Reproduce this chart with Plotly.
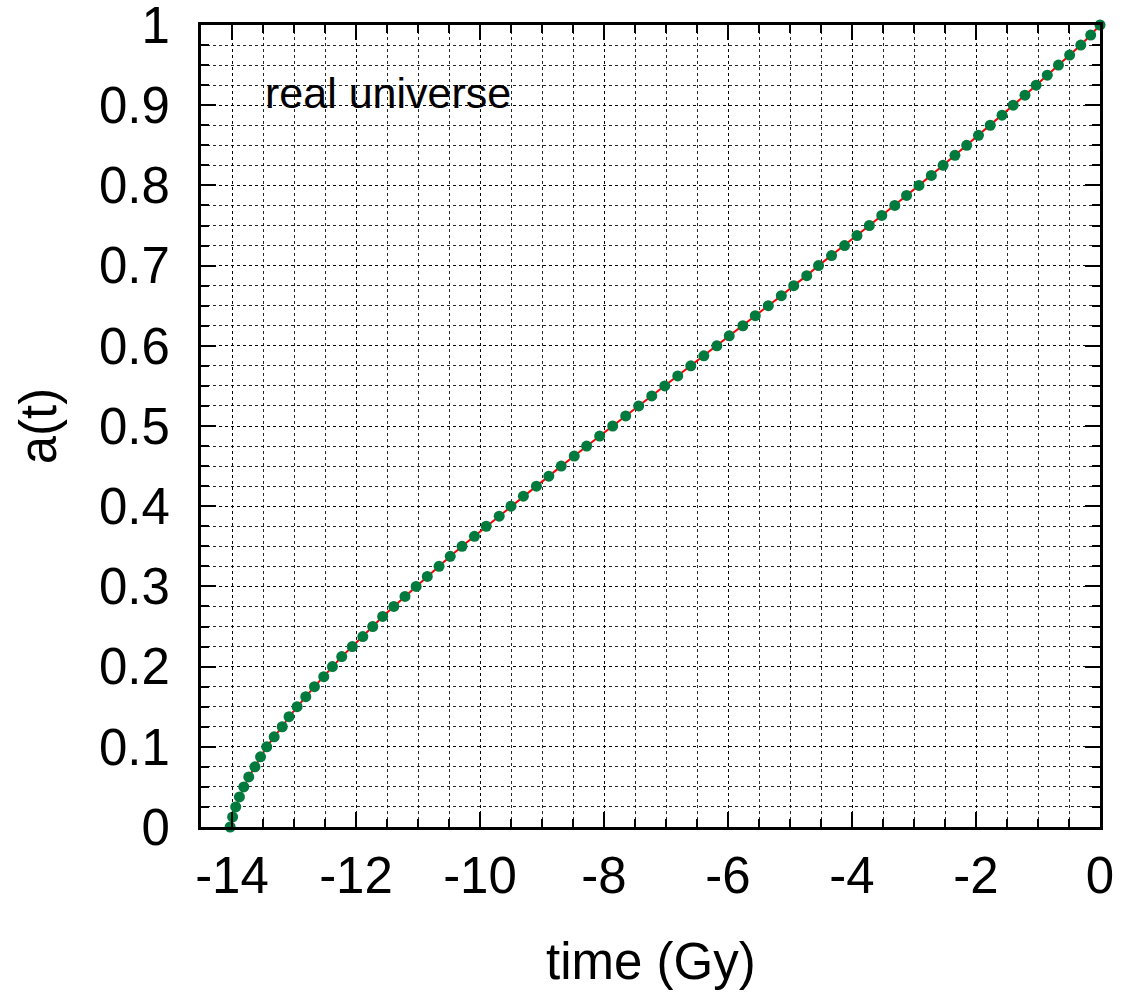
import plotly.graph_objects as go

# scale factor a (evenly spaced samples)
a_vals = [0.0, 0.0125, 0.025, 0.0375, 0.05, 0.0625, 0.075, 0.0875, 0.1, 0.1125,
          0.125, 0.1375, 0.15, 0.1625, 0.175, 0.1875, 0.2, 0.2125, 0.225, 0.2375,
          0.25, 0.2625, 0.275, 0.2875, 0.3, 0.3125, 0.325, 0.3375, 0.35, 0.3625,
          0.375, 0.3875, 0.4, 0.4125, 0.425, 0.4375, 0.45, 0.4625, 0.475, 0.4875,
          0.5, 0.5125, 0.525, 0.5375, 0.55, 0.5625, 0.575, 0.5875, 0.6, 0.6125,
          0.625, 0.6375, 0.65, 0.6625, 0.675, 0.6875, 0.7, 0.7125, 0.725, 0.7375,
          0.75, 0.7625, 0.775, 0.7875, 0.8, 0.8125, 0.825, 0.8375, 0.85, 0.8625,
          0.875, 0.8875, 0.9, 0.9125, 0.925, 0.9375, 0.95, 0.9625, 0.975, 0.9875,
          1.0]

# time in Gy
t_vals = [-14.03, -13.99, -13.94, -13.88, -13.81, -13.73, -13.63, -13.54, -13.44, -13.32,
          -13.19, -13.08, -12.95, -12.81, -12.67, -12.52, -12.38, -12.23, -12.06, -11.89,
          -11.73, -11.57, -11.39, -11.21, -11.03, -10.85, -10.66, -10.48, -10.29, -10.09,
          -9.90, -9.69, -9.50, -9.30, -9.09, -8.89, -8.69, -8.48, -8.28, -8.07,
          -7.86, -7.65, -7.44, -7.23, -7.02, -6.81, -6.60, -6.39, -6.18, -5.98,
          -5.76, -5.56, -5.35, -5.14, -4.94, -4.73, -4.54, -4.33, -4.12, -3.92,
          -3.72, -3.52, -3.31, -3.12, -2.92, -2.72, -2.53, -2.34, -2.15, -1.96,
          -1.77, -1.58, -1.40, -1.21, -1.03, -0.85, -0.67, -0.49, -0.31, -0.15,
          0.0]

x_tickvals = [-14, -12, -10, -8, -6, -4, -2, 0]
x_ticktext = ["-14", "-12", "-10", "-8", "-6", "-4", "-2", "0"]
y_tickvals = [0, 0.1, 0.2, 0.3, 0.4, 0.5, 0.6, 0.7, 0.8, 0.9, 1]
y_ticktext = ["0", "0.1", "0.2", "0.3", "0.4", "0.5", "0.6", "0.7", "0.8", "0.9", "1"]

FONT = "Liberation Sans, Arial, Helvetica, sans-serif"
GRID = "rgba(0,0,0,0.85)"

fig = go.Figure()
fig.add_trace(go.Scatter(
    x=t_vals, y=a_vals, mode="lines+markers",
    line=dict(color="#ff0000", width=2),
    marker=dict(color="#007a3d", size=11, line=dict(width=0)),
    cliponaxis=False, showlegend=False,
))

axis_common = dict(
    showline=True, linecolor="black", linewidth=3, mirror="ticks",
    ticks="inside", ticklen=15, tickwidth=2, tickcolor="black",
    showgrid=True, gridcolor=GRID, gridwidth=1, griddash="3px,3px",
    zeroline=False, ticklabeloverflow="allow", automargin=False,
    tickfont=dict(family=FONT, size=51, color="black"),
)

fig.update_xaxes(
    range=[-14.5, 0], tickmode="array", tickvals=x_tickvals, ticktext=x_ticktext,
    minor=dict(tick0=0, dtick=0.5, ticks="inside", ticklen=8, tickwidth=1.5,
               tickcolor="black", showgrid=True, gridcolor=GRID, gridwidth=1,
               griddash="3px,3px"),
    ticklabelstandoff=2,
    **axis_common,
)
fig.update_yaxes(
    range=[0, 1], tickmode="array", tickvals=y_tickvals, ticktext=y_ticktext,
    minor=dict(tick0=0, dtick=0.025, ticks="inside", ticklen=8, tickwidth=1.5,
               tickcolor="black", showgrid=True, gridcolor=GRID, gridwidth=1,
               griddash="3px,3px"),
    ticklabelstandoff=18,
    **axis_common,
)

fig.add_annotation(text="real universe", x=-13.5, y=0.915, xref="x", yref="y",
                   xanchor="left", yanchor="middle", showarrow=False,
                   font=dict(family=FONT, size=43, color="black"))
fig.add_annotation(text="a(t)", x=-0.181, y=0.5, xref="paper", yref="paper",
                   xanchor="center", yanchor="middle", textangle=-90, showarrow=False,
                   font=dict(family=FONT, size=51, color="black"))
fig.add_annotation(text="time (Gy)", x=0.5, y=-0.168, xref="paper", yref="paper",
                   xanchor="center", yanchor="middle", showarrow=False,
                   font=dict(family=FONT, size=51, color="black"))

fig.update_layout(
    width=1128, height=994,
    margin=dict(l=201, r=28, t=25, b=167),
    paper_bgcolor="white", plot_bgcolor="white",
)

fig.write_html("out.html")
